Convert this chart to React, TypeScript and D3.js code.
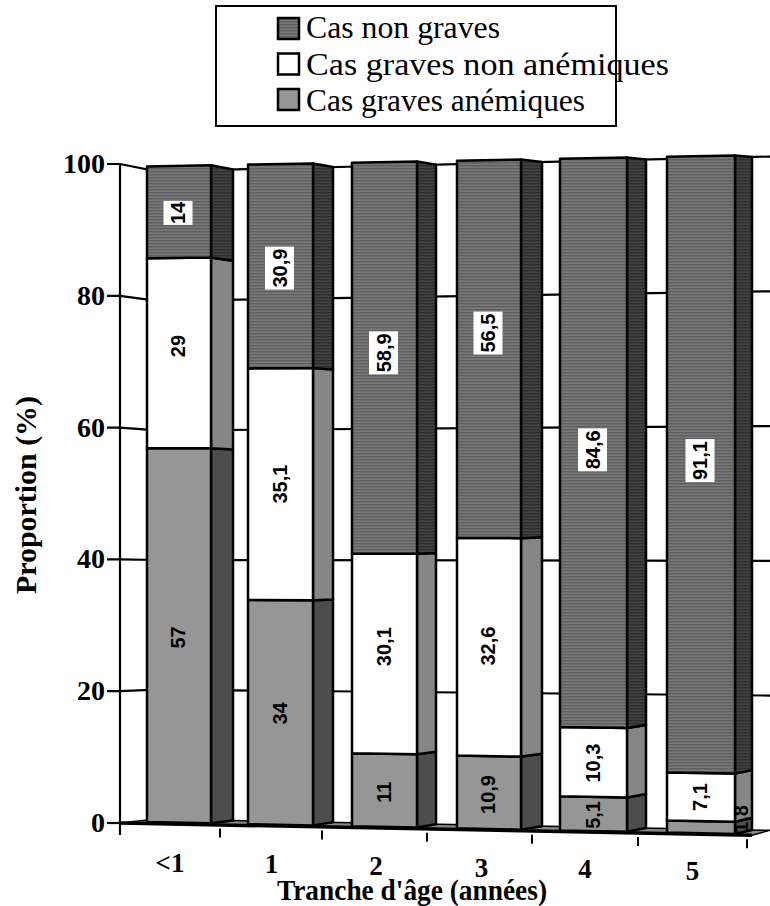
import React from "react";
import * as d3 from "d3";

// Age bands and the share of each case type per band (%)
const categories = ["<1", "1", "2", "3", "4", "5"];
const casGravesAnemiques = [57, 34, 11, 10.9, 5.1, 1.8];
const casGravesNonAnemiques = [29, 35.1, 30.1, 32.6, 10.3, 7.1];
const casNonGraves = [14, 30.9, 58.9, 56.5, 84.6, 91.1];
const yTicks = [0, 20, 40, 60, 80, 100];
const legendLabels = ["Cas non graves", "Cas graves non anémiques", "Cas graves anémiques"];
const legendWidths = [194, 363, 279];

const W = 770;
const H = 906;
const idx = categories.map((_, i) => i);

// Perspective: bars grow slightly wider toward the right of the floor
const barLeft = d3.scaleLinear<number>().domain(idx).range([147, 248, 352, 457, 560, 667]);
const barRight = d3.scaleLinear<number>().domain(idx).range([211, 313, 417, 521, 627, 735]);
const barBack = d3.scaleLinear<number>().domain(idx).range([233, 333, 436, 542, 646, 752]);
const tickX = d3.scaleLinear<number>().domain([0, 1, 2, 3, 4, 5, 6]).range([120, 220, 322, 427, 532, 638, 747]);

// Front plane of the bars: value -> y depends on x
const frontBase = d3.scaleLinear().domain([147, 735]).range([822, 834]);
const frontTop = d3.scaleLinear().domain([147, 735]).range([166.5, 155.5]);
const frontY = (v: number, x: number) =>
  d3.scaleLinear().domain([0, 100]).range([frontBase(x), frontTop(x)])(v);

// Back wall plane
const backBase = d3.scaleLinear().domain([233, 752]).range([820.5, 830]);
const backTop = d3.scaleLinear().domain([233, 752]).range([169.5, 157]);
const backY = (v: number, x: number) =>
  d3.scaleLinear().domain([0, 100]).range([backBase(x), backTop(x)])(v);

// Left wall edge, where the value axis sits
const axisX = 120;
const cornerX = 157;
const axisY = d3.scaleLinear().domain([0, 100]).range([823, 164]);

const series = [
  { key: "a", values: casGravesAnemiques, front: "#969696", side: "#4d4d4d", box: false },
  { key: "b", values: casGravesNonAnemiques, front: "#ffffff", side: "#868686", box: false },
  { key: "c", values: casNonGraves, front: "url(#stripeFront)", side: "url(#stripeSide)", box: true },
];

// Label nudges along the bar, in pixels, per series then per bar
const labelShift = [
  [2, 1, 2, 2, 1, -9],
  [-7, 0, -7, -1, 1, 0],
  [1, 2, -5, -16, 7, -4],
];

const serif = "'Liberation Serif', serif";
const poly = (pts: [number, number][]) => pts.map((p) => p.join(",")).join(" ");

export default function App() {
  const stacks = idx.map((i) => {
    let acc = 0;
    return series.map((s, si) => {
      const v0 = acc;
      acc += s.values[i];
      return { s, si, v0, v1: acc, value: s.values[i] };
    });
  });

  return (
    <svg width={W} height={H} style={{ position: "absolute", left: 0, top: 0, background: "#fff" }}>
      <defs>
        <pattern id="stripeFront" width="4" height="3" patternUnits="userSpaceOnUse">
          <rect width="4" height="3" fill="#787878" />
          <rect width="4" height="1.4" fill="#5f5f5f" />
        </pattern>
        <pattern id="stripeSide" width="4" height="3" patternUnits="userSpaceOnUse">
          <rect width="4" height="3" fill="#414141" />
          <rect width="4" height="1.4" fill="#2e2e2e" />
        </pattern>
      </defs>

      {/* Floor */}
      <polygon
        points={poly([
          [axisX, axisY(0)],
          [cornerX, backBase(cornerX)],
          [770, backBase(770)],
          [barBack(5), frontBase(barBack(5)) + 1],
        ])}
        fill="#868686"
        stroke="#000"
        strokeWidth={1.5}
        strokeLinejoin="round"
      />
      <line x1={axisX} y1={axisY(0)} x2={barBack(5)} y2={frontBase(barBack(5)) + 1} stroke="#000" strokeWidth={3.5} />

      {/* Wall lines and value axis */}
      {yTicks.filter((t) => t > 0).map((t) => (
        <polyline
          key={t}
          fill="none"
          stroke="#000"
          strokeWidth={2.2}
          points={poly([
            [107, axisY(t)],
            [axisX, axisY(t)],
            [cornerX, backY(t, cornerX)],
            [770, backY(t, 770)],
          ])}
        />
      ))}
      <line x1={107} x2={axisX} y1={axisY(0)} y2={axisY(0)} stroke="#000" strokeWidth={2.2} />
      <line x1={axisX} x2={axisX} y1={axisY(100)} y2={835} stroke="#000" strokeWidth={2.2} />
      {d3.range(1, 7).map((k) => (
        <line
          key={k}
          x1={tickX(k)}
          x2={tickX(k)}
          y1={frontBase(tickX(k)) + 5}
          y2={frontBase(tickX(k)) + 14}
          stroke="#000"
          strokeWidth={2}
        />
      ))}

      {/* Stacked bars */}
      {idx.map((i) => {
        const l = barLeft(i);
        const r = barRight(i);
        const b = barBack(i);
        return (
          <g key={i} stroke="#000" strokeWidth={2.5} strokeLinejoin="round">
            {stacks[i].map((d) => (
              <g key={d.s.key}>
                <polygon
                  points={poly([
                    [r, frontY(d.v0, r)],
                    [b, backY(d.v0, b)],
                    [b, backY(d.v1, b)],
                    [r, frontY(d.v1, r)],
                  ])}
                  fill={d.s.side}
                />
                <polygon
                  points={poly([
                    [l, frontY(d.v0, l)],
                    [r, frontY(d.v0, r)],
                    [r, frontY(d.v1, r)],
                    [l, frontY(d.v1, l)],
                  ])}
                  fill={d.s.front}
                />
              </g>
            ))}
          </g>
        );
      })}

      {/* Value labels, rotated along the bars */}
      {idx.map((i) =>
        stacks[i].map((d) => {
          const small = d.value < 2;
          const cx = small ? barBack(i) - 11 : (barLeft(i) + barRight(i)) / 2 - 1;
          const mid = (d.v0 + d.v1) / 2;
          const cy = frontY(mid, cx) + labelShift[d.si][i];
          const text = String(d.value).replace(".", ",");
          const len = text.length === 2 ? 24 : 43;
          return (
            <g key={d.s.key} transform={`translate(${cx},${cy}) rotate(-90)`}>
              {d.s.box && <rect x={-len / 2} y={-14.5} width={len} height={29} fill="#fff" />}
              <text
                textAnchor="middle"
                dy="0.35em"
                fontFamily="'Liberation Sans', Arial, sans-serif"
                fontWeight="bold"
                fontSize={20}
                fill="#000"
              >
                {text}
              </text>
            </g>
          );
        })
      )}

      {/* Value axis labels */}
      {yTicks.map((t) => (
        <text key={t} x={105} y={axisY(t) + 9} textAnchor="end" fontFamily={serif} fontWeight="bold" fontSize={28}>
          {t}
        </text>
      ))}

      {/* Category labels */}
      {categories.map((c, i) => (
        <text
          key={c}
          x={barLeft(i) + 23 + i * 0.5}
          y={frontBase(barLeft(i)) + 50 - i * 0.6}
          textAnchor="middle"
          fontFamily={serif}
          fontWeight="bold"
          fontSize={27}
        >
          {c}
        </text>
      ))}

      <text
        x={412}
        y={900}
        textAnchor="middle"
        fontFamily={serif}
        fontWeight="bold"
        fontSize={29}
        textLength={270}
        lengthAdjust="spacingAndGlyphs"
      >
        Tranche d'âge (années)
      </text>
      <text
        transform="translate(36,495) rotate(-90)"
        textAnchor="middle"
        fontFamily={serif}
        fontWeight="bold"
        fontSize={29}
        textLength={198}
        lengthAdjust="spacingAndGlyphs"
      >
        Proportion (%)
      </text>

      {/* Legend */}
      <rect x={216} y={6} width={400} height={120} fill="#fff" stroke="#000" strokeWidth={2} />
      {legendLabels.map((label, i) => {
        const s = series[2 - i];
        const y = 18 + i * 35.5;
        return (
          <g key={label}>
            <rect x={278} y={y} width={21} height={21} fill={s.front} stroke="#000" strokeWidth={2.5} />
            <text
              x={306}
              y={38 + i * 36.5}
              fontFamily={serif}
              fontSize={31}
              textLength={legendWidths[i]}
              lengthAdjust="spacingAndGlyphs"
            >
              {label}
            </text>
          </g>
        );
      })}
    </svg>
  );
}
